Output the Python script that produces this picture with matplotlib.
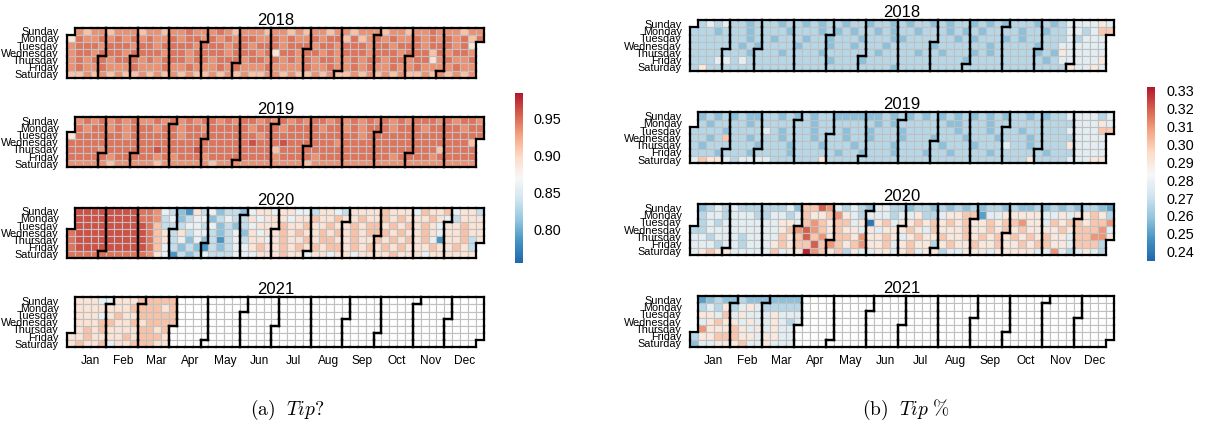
import calendar
import datetime as dt
import numpy as np
import matplotlib
matplotlib.use('Agg')
import matplotlib.pyplot as plt
from matplotlib.collections import PatchCollection, LineCollection
from matplotlib.patches import Rectangle
from matplotlib.colors import Normalize, LinearSegmentedColormap
from matplotlib.cm import ScalarMappable

plt.rcParams['font.family'] = ['Liberation Sans', 'DejaVu Sans']
plt.rcParams['mathtext.fontset'] = 'cm'

years = [2018, 2019, 2020, 2021]
weekdays = ['Sunday', 'Monday', 'Tuesday', 'Wednesday', 'Thursday', 'Friday', 'Saturday']
months = ['Jan', 'Feb', 'Mar', 'Apr', 'May', 'Jun', 'Jul', 'Aug', 'Sep', 'Oct', 'Nov', 'Dec']

# one character per day cell: rows Sunday..Saturday, 53 week columns, '.' = no value
# the digit is an index into the level list of the panel
tip_levels = [0.765, 0.785, 0.81, 0.835, 0.86, 0.89, 0.912, 0.935, 0.948, 0.962]
pct_levels = [0.24, 0.25, 0.258, 0.266, 0.277, 0.29, 0.30, 0.31, 0.32, 0.33]

tip_2018 = [
    ".767767776 7767787778 7677767767 6776776777 6776778777 677",
    "5877878787 8778788787 8788778787 7878868678 7877878787 868",
    "7888788878 8788887888 7887888788 8788788878 8788878887 85.",
    "7887888788 8878878888 7888785887 8878788878 8878886878 87.",
    "7878878887 8788878878 8878878787 8788778788 7887885787 78.",
    "7877877787 7787787778 7877787777 8778778787 7877877778 77.",
    "6676767667 6767676676 7676677676 6767667676 7676676767 67.",
]
tip_2019 = [
    ".787878787 7878787887 8788787878 7887878787 8787888787 887",
    ".878878788 8788788788 8887888788 8878878788 8788878888 788",
    "5888888788 8888788888 8888788888 8888888788 8888888888 888",
    "8888888888 8888888888 8889888988 8888788888 8888888888 86.",
    "8888788888 8988889888 8888886888 8888888888 8888888688 88.",
    "8888878888 8787888788 8888887888 8788888888 8788887888 88.",
    "7777767777 7677777767 7777777777 6777777777 7777777777 77.",
]
tip_2020 = [
    ".999999998 8743215342 3324554554 4355435555 6555465564 553",
    ".999999998 8734234423 4335455545 5655655655 6565556543 555",
    ".999999999 8633344342 3234555655 6556556566 5656565455 655",
    "8999999999 8653534432 3425455656 5565656566 6565565455 655",
    "8999999999 8653424231 3435545655 6566556556 5656564155 635",
    "8999999999 8643232132 3445655656 5656656565 6565556556 53.",
    "8888888888 7541323433 3444555655 4554554555 5655545555 55.",
]
tip_2021 = [
    ".5554455566666",
    ".5555555666656",
    ".5554565566666",
    ".5556655656666",
    ".565655556656",
    "5565555656665",
    "5655645566655",
]

pct_2018 = [
    ".343433233 3233232332 3323323233 2323323232 3332323444 454",
    "3332333233 3323332323 2332323323 3323232333 3233233443 466",
    "3333333233 2333233233 3233322333 3332323332 3233333434 44.",
    "3333332323 3332333233 2333233333 2333333233 3332334444 44.",
    "3333333233 3233332333 3332333323 3233323233 3332325444 44.",
    "3334434333 3333333233 3233333333 3333233333 3333234444 45.",
    "3533333333 3333333333 3333323333 3333333333 3333333544 54.",
]
pct_2019 = [
    ".232323223 3232323322 2222323232 3232323232 3323233444 434",
    ".323333233 3333323333 3332323333 3322333233 3333333344 454",
    "3333233334 3233323332 3323332333 3332333233 3233333444 466",
    "3323633233 3233323332 3323332333 2333233323 3323333344 44.",
    "3233333323 3323332333 2333323333 3233323334 3323333544 44.",
    "3332333233 3323333323 3233323332 3323333233 3333233344 44.",
    "4655434444 3333335333 3333333333 3333333333 3353333444 55.",
]
pct_2020 = [
    ".234343333 3342668743 4324433233 2323232332 3223232323 321",
    ".344344433 4434655675 4344434453 3455661445 5555445455 653",
    ".343444444 4554676566 4505645565 6565655656 6755465665 667",
    "3344444444 4567876565 5454555654 6555655656 5655556566 674",
    "4434443444 4656867566 5755654565 5655656565 6565655466 775",
    "4443443444 5656686765 6755645655 3565565565 5656655466 63.",
    "4565544444 6455976563 5445545645 5344555455 5554474345 43.",
]
pct_2021 = [
    ".1232232222222",
    ".3435345433333",
    ".5546454445444",
    ".4565545445434",
    ".755565454544.",
    "3556665545544",
    "2445556445444",
]

W, H = 1205, 432
cmap = LinearSegmentedColormap.from_list('rdbu9', ['#2166ac', '#4393c3', '#92c5de', '#d1e5f0', '#f7f7f7',
                                                   '#fddbc7', '#f4a582', '#d6604d', '#b2182b'])


def year_cells(year):
    start = dt.date(year, 1, 1)
    off = (start.weekday() + 1) % 7
    n = 366 if calendar.isleap(year) else 365
    cells = {}
    for i in range(n):
        d = start + dt.timedelta(i)
        k = i + off
        cells[(k % 7, k // 7)] = d.month
    return cells


def draw_year(ax, year, rows, levels, norm):
    rows = [r.replace(' ', '').ljust(53, '.') for r in rows]
    cells = year_cells(year)
    rects, colors = [], []
    for (r, c), m in cells.items():
        ch = rows[r][c]
        rects.append(Rectangle((c, r), 1, 1))
        colors.append(cmap(norm(levels[int(ch)])) if ch.isdigit() else 'white')
    ax.add_collection(PatchCollection(rects, facecolors=colors, edgecolors='#c0c0c0', linewidths=0.8))
    segs = []
    for (r, c), m in cells.items():
        if cells.get((r - 1, c)) != m:
            segs.append([(c, r), (c + 1, r)])
        if cells.get((r + 1, c)) != m:
            segs.append([(c, r + 1), (c + 1, r + 1)])
        if cells.get((r, c - 1)) != m:
            segs.append([(c, r), (c, r + 1)])
        if cells.get((r, c + 1)) != m:
            segs.append([(c + 1, r), (c + 1, r + 1)])
    ax.add_collection(LineCollection(segs, colors='black', linewidths=1.6, capstyle='projecting', clip_on=False))
    ax.set_xlim(0, 53)
    ax.set_ylim(7, 0)
    ax.set_frame_on(False)
    ax.set_yticks(np.arange(7) + 0.5)
    ax.set_yticklabels(weekdays, fontsize=7.8)
    ax.tick_params(length=0, axis='y', pad=6)
    ax.set_xticks([])
    return cells


def panel(fig, x, w, tops, h, data, levels, vmin, vmax, title_pad, cb_box, cb_ticks, caption, cap_x):
    norm = Normalize(vmin, vmax)
    for i, year in enumerate(years):
        ax = fig.add_axes([x / W, 1 - (tops[i] + h) / H, w / W, h / H])
        cells = draw_year(ax, year, data[i], levels, norm)
        ax.set_title(str(year), fontsize=12, pad=title_pad)
    # month labels under the last year
    pos = []
    for m in range(1, 13):
        cols = [c for (r, c), mm in cells.items() if mm == m]
        pos.append(np.mean(cols) + 0.5)
    ax.set_xticks(pos)
    ax.set_xticklabels(months, fontsize=8.6)
    ax.tick_params(axis='x', length=0, pad=5.5)

    cx, cy, cw, ch = cb_box
    cax = fig.add_axes([cx / W, 1 - (cy + ch) / H, cw / W, ch / H])
    cb = fig.colorbar(ScalarMappable(norm=norm, cmap=cmap), cax=cax)
    cb.outline.set_visible(False)
    cb.set_ticks(cb_ticks)
    cb.set_ticklabels(['%.2f' % t for t in cb_ticks])
    cax.tick_params(length=0, pad=8, labelsize=10.4)

    fig.text(cap_x / W, 1 - 410 / H, caption, fontsize=14, ha='center', va='center')


fig = plt.figure(figsize=(W / 100, H / 100), dpi=100)

panel(fig, 67, 416.6, [27.7, 117.3, 207.7, 297.3], 50,
      [tip_2018, tip_2019, tip_2020, tip_2021], tip_levels, 0.755, 0.985, 2,
      (515, 93, 7.7, 170), [0.80, 0.85, 0.90, 0.95],
      r'$\mathrm{(a)}\ \ \mathit{Tip?}$', 287)

panel(fig, 690, 424, [20, 112.3, 204, 296], 51,
      [pct_2018, pct_2019, pct_2020, pct_2021], pct_levels, 0.2348, 0.3319, 2.5,
      (1146.7, 87.3, 8.3, 173.7), [0.24, 0.25, 0.26, 0.27, 0.28, 0.29, 0.30, 0.31, 0.32, 0.33],
      r'$\mathrm{(b)}\ \ \mathit{Tip}\ \%$', 906)

fig.savefig('out.png', dpi=100)
